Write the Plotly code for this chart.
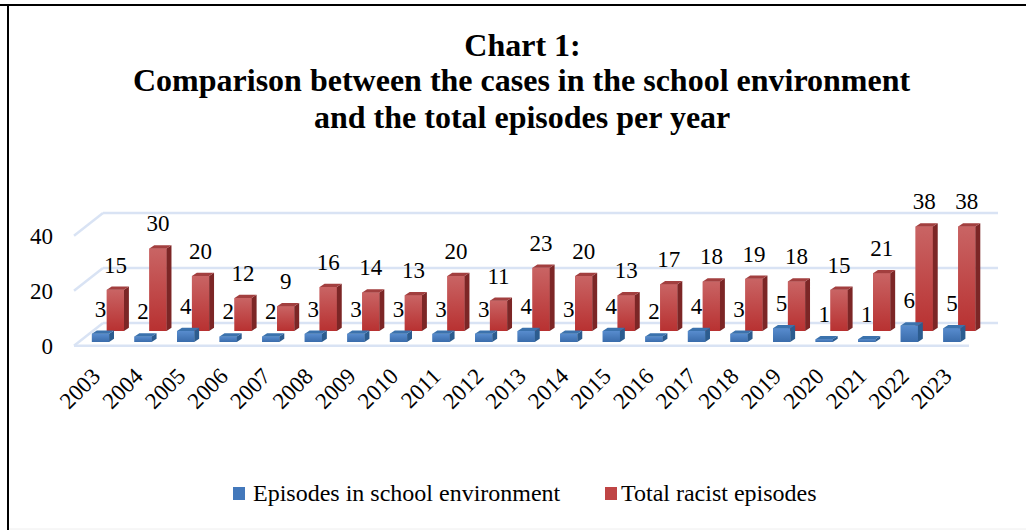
import plotly.graph_objects as go

# Chart data
years = [str(y) for y in range(2003, 2024)]
school_episodes = [3, 2, 4, 2, 2, 3, 3, 3, 3, 3, 4, 3, 4, 2, 4, 3, 5, 1, 1, 6, 5]
total_episodes = [15, 30, 20, 12, 9, 16, 14, 13, 20, 11, 23, 20, 13, 17, 18, 19, 18, 15, 21, 38, 38]
value_ticks = [0, 20, 40]

title_lines = ["Chart 1:",
               "Comparison between the cases in the school environment",
               "and the total episodes per year"]
SCHOOL_NAME = "Episodes in school environment"
TOTAL_NAME = "Total racist episodes"
SERIF = "Liberation Serif"

# Canvas and plot area (pixels)
WIDTH, HEIGHT = 1026, 530
PLOT_L, PLOT_R, PLOT_T, PLOT_B = 60, 1010, 180, 350
# Scale: pixels per category and per value unit, and where the origin sits
PX_X, PX_Y = 42.57, 2.75
ORIGIN_X, ORIGIN_Y = 100.5, 345.7

x_range = [(PLOT_L - ORIGIN_X) / PX_X, (PLOT_R - ORIGIN_X) / PX_X]
y_range = [(ORIGIN_Y - PLOT_B) / PX_Y, (ORIGIN_Y - PLOT_T) / PX_Y]


def paper_x(px):
    return (px - PLOT_L) / (PLOT_R - PLOT_L)


def paper_y(px):
    return (PLOT_B - px) / (PLOT_B - PLOT_T)


# Pseudo-3D geometry, in axis units
BAR_W = 17.2 / PX_X
DEPTH_X = 4.9 / PX_X
DEPTH_Y = 3.3 / PX_Y
RED_SHIFT = 14.9 / PX_X
BLUE_BASE = 3.7 / PX_Y
RED_BASE = 14.7 / PX_Y
FLOOR_DX = 29 / PX_X
FLOOR_DY = 22.7 / PX_Y
FLOOR_LEFT = (74 - ORIGIN_X) / PX_X
FLOOR_RIGHT = (969 - ORIGIN_X) / PX_X
LABEL_GAP = 19.7 / PX_Y

GRID = "#d9e3f4"
BLUE = dict(mid="#4378bb", top="#588cce", bottom="#3a6cab", side="#2c5c8f", cap="#3b72ad")
RED = dict(mid="#bf4545", top="#c96464", bottom="#b83131", side="#7c2626", cap="#a23f3f")


def add_series(fig, name, values, shift, base, colors, xa, ya):
    """Draw one series: solid bars, shaded fronts, then the side and top faces."""
    centres = [i + shift for i in range(len(values))]
    fig.add_bar(x=centres, y=values, base=base, width=BAR_W, name=name,
                marker=dict(color=colors["mid"], line_width=0),
                xaxis=xa, yaxis=ya, customdata=years, showlegend=False,
                hovertemplate="%{customdata}: %{y}<extra>" + name + "</extra>")
    for c, v in zip(centres, values):
        left, right, low, high = c - BAR_W / 2, c + BAR_W / 2, base, base + v
        fig.add_scatter(x=[left, right, right, left, left], y=[low, low, high, high, low],
                        mode="lines", line_width=0, fill="toself", xaxis=xa, yaxis=ya,
                        fillgradient=dict(type="vertical", start=low, stop=high,
                                          colorscale=[[0, colors["bottom"]], [1, colors["top"]]]),
                        showlegend=False, hoverinfo="skip")
    side_x, side_y, cap_x, cap_y = [], [], [], []
    for c, v in zip(centres, values):
        left, right, low, high = c - BAR_W / 2, c + BAR_W / 2, base, base + v
        side_x += [right, right + DEPTH_X, right + DEPTH_X, right, right, None]
        side_y += [low, low + DEPTH_Y, high + DEPTH_Y, high, low, None]
        cap_x += [left, right, right + DEPTH_X, left + DEPTH_X, left, None]
        cap_y += [high, high, high + DEPTH_Y, high + DEPTH_Y, high, None]
    for xs, ys, col in ((side_x, side_y, colors["side"]), (cap_x, cap_y, colors["cap"])):
        fig.add_scatter(x=xs, y=ys, mode="lines", line_width=0, fill="toself", fillcolor=col,
                        xaxis=xa, yaxis=ya, showlegend=False, hoverinfo="skip")


fig = go.Figure()

# Back wall, floor edge and side wall lines, kept beneath the bars
shapes = []
for v in value_ticks:
    wall_y = v + FLOOR_DY
    shapes.append(dict(type="line", xref="x", yref="y", layer="below",
                       x0=FLOOR_LEFT, y0=v, x1=FLOOR_LEFT + FLOOR_DX, y1=wall_y,
                       line=dict(color=GRID, width=2.5)))
    shapes.append(dict(type="line", xref="x", yref="y", layer="below",
                       x0=FLOOR_LEFT + FLOOR_DX, y0=wall_y,
                       x1=FLOOR_RIGHT + FLOOR_DX, y1=wall_y,
                       line=dict(color=GRID, width=2.5)))
shapes.append(dict(type="line", xref="x", yref="y", layer="below",
                   x0=FLOOR_LEFT, y0=0, x1=FLOOR_RIGHT, y1=0,
                   line=dict(color=GRID, width=2.5)))

# Page rules: heavy top and left, a faint one along the bottom
for x0, y0, x1, y1, col, w in ((0, 5, WIDTH, 5, "black", 2),
                               (8, 5, 8, HEIGHT, "black", 2),
                               (9, 529, WIDTH, 529, "#eeeeee", 1)):
    shapes.append(dict(type="line", xref="paper", yref="paper", layer="above",
                       x0=paper_x(x0), y0=paper_y(y0), x1=paper_x(x1), y1=paper_y(y1),
                       line=dict(color=col, width=w)))

# Legend swatches
for left, colors in ((233, BLUE), (605, RED)):
    shapes.append(dict(type="rect", xref="paper", yref="paper", layer="above",
                       x0=paper_x(left), x1=paper_x(left + 12),
                       y0=paper_y(500), y1=paper_y(487),
                       fillcolor=colors["mid"], line_width=0))

# The red series sits on the back axes, the blue one on an overlay in front of it
add_series(fig, TOTAL_NAME, total_episodes, RED_SHIFT, RED_BASE, RED, "x", "y")
add_series(fig, SCHOOL_NAME, school_episodes, 0, BLUE_BASE, BLUE, "x2", "y2")

# Value labels above each bar
for values, shift, base in ((school_episodes, 0, BLUE_BASE), (total_episodes, RED_SHIFT, RED_BASE)):
    fig.add_scatter(x=[i + shift for i in range(len(values))],
                    y=[v + base + DEPTH_Y + LABEL_GAP for v in values],
                    text=[str(v) for v in values], mode="text", textposition="middle center",
                    textfont=dict(family=SERIF, size=23, color="black"),
                    xaxis="x2", yaxis="y2", showlegend=False, hoverinfo="skip")

# Second and third title lines, set tighter than the default line height
annotations = [dict(text=f"<b>{line}</b>", xref="paper", yref="paper", showarrow=False,
                    x=paper_x(522), y=paper_y(py), xanchor="center", yanchor="middle",
                    font=dict(family=SERIF, size=32, color="black"))
               for line, py in zip(title_lines[1:], (80, 117))]
# Legend labels
for text, left in ((SCHOOL_NAME, 252), (TOTAL_NAME, 620)):
    annotations.append(dict(text=text, xref="paper", yref="paper", showarrow=False,
                            x=paper_x(left), y=paper_y(493), xanchor="left", yanchor="middle",
                            xshift=-1, font=dict(family=SERIF, size=24, color="black")))

fig.update_layout(
    width=WIDTH, height=HEIGHT,
    margin=dict(l=PLOT_L, r=WIDTH - PLOT_R, t=PLOT_T, b=HEIGHT - PLOT_B, autoexpand=False),
    paper_bgcolor="white", plot_bgcolor="rgba(0,0,0,0)",
    barmode="overlay",
    font=dict(family=SERIF, color="black"),
    title=dict(text=f"<b>{title_lines[0]}</b>", x=522.5 / WIDTH, xanchor="center",
               y=1 - 45 / HEIGHT, yanchor="middle",
               font=dict(family=SERIF, size=32, color="black")),
    xaxis=dict(range=x_range, tickmode="array", tickvals=list(range(len(years))), ticktext=years,
               tickangle=-45, tickfont=dict(family=SERIF, size=23), showgrid=False, zeroline=False,
               showline=False, ticks="", ticklabelstandoff=7, ticklabelshift=-7, fixedrange=True),
    yaxis=dict(range=y_range, tickmode="array", tickvals=value_ticks, showgrid=False, zeroline=False,
               showline=False, ticks="", tickfont=dict(family=SERIF, size=23), ticklabelstandoff=6,
               fixedrange=True),
    xaxis2=dict(range=x_range, overlaying="x", visible=False, fixedrange=True),
    yaxis2=dict(range=y_range, overlaying="y", visible=False, fixedrange=True),
    annotations=annotations,
    shapes=shapes,
    showlegend=False,
)

fig.write_html("out.html", config=dict(displayModeBar=False))
